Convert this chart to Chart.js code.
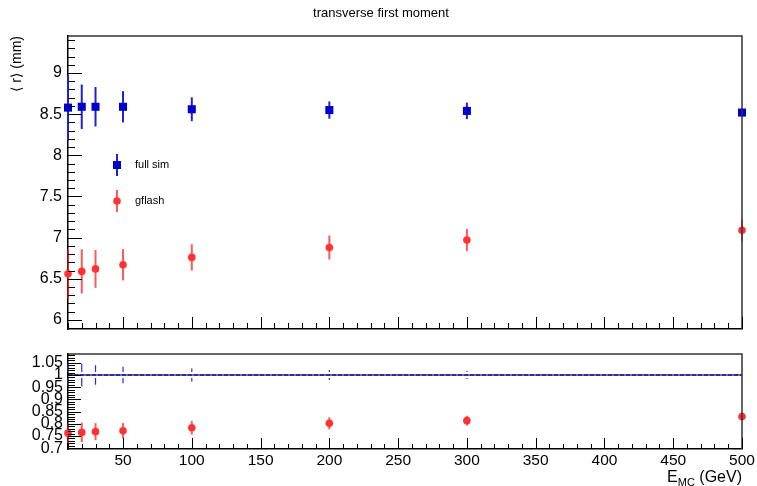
<!DOCTYPE html>
<html>
<head>
<meta charset="utf-8">
<script src="https://cdn.jsdelivr.net/npm/chart.js@4.4.1/dist/chart.umd.min.js"></script>
<style>
  html, body { margin: 0; padding: 0; background: #fff; }
  #wrap { position: relative; width: 757px; height: 486px; }
  canvas { position: absolute; left: 0; }
  #mainChart { top: 0; }
  #ratioChart { top: 340px; }
</style>
</head>
<body>
<div id="wrap">
  <canvas id="mainChart" width="757" height="340"></canvas>
  <canvas id="ratioChart" width="757" height="146"></canvas>
</div>
<script>
// E_MC (GeV)
const energies = [10, 20, 30, 50, 100, 200, 300, 500];

// <r> (mm)
const fullSim    = [8.58, 8.59, 8.59, 8.59, 8.56, 8.55, 8.54, 8.52];
const fullSimErr = [0.40, 0.27, 0.24, 0.19, 0.145, 0.105, 0.10, 0.05];
const gflash     = [6.56, 6.59, 6.62, 6.67, 6.76, 6.88, 6.97, 7.09];
const gflashErr  = [0.30, 0.27, 0.23, 0.19, 0.16, 0.146, 0.134, 0.13];

// ratio to full sim
const refRatio      = [1, 1, 1, 1, 1, 1, 1, 1];
const refRatioErr   = [0.047, 0.047, 0.040, 0.034, 0.027, 0.020, 0.016, 0.008];
const gflashRatio    = [0.762, 0.765, 0.768, 0.772, 0.784, 0.802, 0.813, 0.830];
const gflashRatioErr = [0.040, 0.040, 0.035, 0.031, 0.028, 0.025, 0.020, 0.016];

const xTicks = [50, 100, 150, 200, 250, 300, 350, 400, 450, 500];
const mainYTicks = [6, 6.5, 7, 7.5, 8, 8.5, 9];
const ratioYTicks = [0.7, 0.75, 0.8, 0.85, 0.9, 0.95, 1, 1.05];

const FONT = '"Liberation Sans", Arial, Helvetica, "DejaVu Sans", sans-serif';
const BLUE = '#0000cc';
const RED = '#ff3333';

const toPoints = (ys) => energies.map((x, i) => ({ x: x, y: ys[i] }));

// ROOT-like decorations: error bars, inside ticks, frame, texts
const rootStyle = {
    id: 'rootStyle',
    beforeDatasetsDraw(chart) {
        const ctx = chart.ctx;
        const xs = chart.scales.x, ys = chart.scales.y;
        chart.data.datasets.forEach((ds) => {
            if (!ds.errors) return;
            ctx.save();
            ctx.strokeStyle = ds.errorColor;
            ctx.lineWidth = ds.errorWidth;
            ds.data.forEach((p, i) => {
                const px = xs.getPixelForValue(p.x);
                const pc = ys.getPixelForValue(p.y);
                const pt = ys.getPixelForValue(p.y + ds.errors[i]);
                const pb = ys.getPixelForValue(p.y - ds.errors[i]);
                const gap = ds.errorGap || 0;
                ctx.beginPath();
                if (gap > 0) {
                    if (pc - gap > pt) { ctx.moveTo(px, pt); ctx.lineTo(px, pc - gap); }
                    if (pc + gap < pb) { ctx.moveTo(px, pc + gap); ctx.lineTo(px, pb); }
                } else {
                    ctx.moveTo(px, pt); ctx.lineTo(px, pb);
                }
                ctx.stroke();
            });
            ctx.restore();
        });
    },
    afterDraw(chart, args, opts) {
        const ctx = chart.ctx;
        const { left, right, top, bottom } = chart.chartArea;
        const xs = chart.scales.x, ys = chart.scales.y;
        ctx.save();

        // frame top / right
        ctx.strokeStyle = '#333';
        ctx.lineWidth = 1.5;
        ctx.beginPath();
        ctx.moveTo(left, top); ctx.lineTo(right, top); ctx.lineTo(right, bottom);
        ctx.stroke();

        // inside ticks
        ctx.strokeStyle = '#000';
        ctx.lineWidth = 1;
        ctx.beginPath();
        for (let k = Math.ceil(ys.min / opts.yMinor); k * opts.yMinor <= ys.max; k++) {
            const py = Math.round(ys.getPixelForValue(k * opts.yMinor)) + 0.5;
            ctx.moveTo(left, py); ctx.lineTo(left + opts.yMinorLen, py);
        }
        ys.ticks.forEach((t) => {
            const py = Math.round(ys.getPixelForValue(t.value)) + 0.5;
            ctx.moveTo(left, py); ctx.lineTo(left + opts.yMajorLen, py);
        });
        for (let k = Math.ceil(xs.min / opts.xMinor); k * opts.xMinor <= xs.max; k++) {
            const px = Math.round(xs.getPixelForValue(k * opts.xMinor)) + 0.5;
            ctx.moveTo(px, bottom); ctx.lineTo(px, bottom - opts.xMinorLen);
        }
        xs.ticks.forEach((t) => {
            const px = Math.round(xs.getPixelForValue(t.value)) + 0.5;
            ctx.moveTo(px, bottom); ctx.lineTo(px, bottom - opts.xMajorLen);
        });
        ctx.stroke();

        ctx.fillStyle = '#000';
        if (opts.title) {
            ctx.font = '13px ' + FONT;
            ctx.textAlign = 'center';
            ctx.textBaseline = 'middle';
            ctx.fillText(opts.title, 381, 13);
        }

        // legend
        (opts.legend || []).forEach((item) => {
            const ds = chart.data.datasets[item.dataset];
            ctx.strokeStyle = ds.errorColor;
            ctx.lineWidth = ds.errorWidth;
            ctx.beginPath();
            ctx.moveTo(item.x, item.y - 11); ctx.lineTo(item.x, item.y + 11);
            ctx.stroke();
            ctx.fillStyle = ds.pointBackgroundColor;
            ctx.beginPath();
            if (ds.pointStyle === 'rect') {
                ctx.rect(item.x - 4, item.y - 4, 8, 8);
            } else {
                ctx.arc(item.x, item.y, ds.pointRadius, 0, Math.PI * 2);
            }
            ctx.fill();
            ctx.fillStyle = '#000';
            ctx.font = '11px ' + FONT;
            ctx.textAlign = 'left';
            ctx.textBaseline = 'middle';
            ctx.fillText(ds.label, item.x + 18, item.y);
        });

        // x title with subscript
        if (opts.xTitle) {
            const t = opts.xTitle;
            ctx.textBaseline = 'alphabetic';
            ctx.textAlign = 'left';
            ctx.font = '16px ' + FONT;
            const wMain = ctx.measureText(t.main).width;
            const wTail = ctx.measureText(t.tail).width;
            ctx.font = '11px ' + FONT;
            const wSub = ctx.measureText(t.sub).width;
            let x0 = right - (wMain + wSub + wTail);
            const base = t.baseline;
            ctx.font = '16px ' + FONT;
            ctx.fillText(t.main, x0, base);
            ctx.font = '11px ' + FONT;
            ctx.fillText(t.sub, x0 + wMain, base + 4);
            ctx.font = '16px ' + FONT;
            ctx.fillText(t.tail, x0 + wMain + wSub, base);
        }
        ctx.restore();
    }
};

function fixedTicks(values) {
    return (scale) => { scale.ticks = values.map((v) => ({ value: v })); };
}

// pin axis sizes so the plot frames sit where the reference puts them
function fitY(width) {
    return (s) => { s.width = width; s.paddingTop = 0; s.paddingBottom = 0; };
}
function fitX(height) {
    return (s) => { s.height = height; s.paddingLeft = 0; s.paddingRight = 0; };
}

const mainChart = new Chart(document.getElementById('mainChart'), {
    type: 'scatter',
    data: {
        datasets: [
            {
                label: 'full sim',
                data: toPoints(fullSim),
                errors: fullSimErr,
                errorColor: '#2020d8',
                errorWidth: 2,
                pointStyle: 'rect',
                pointRadius: 5.7,
                pointBorderWidth: 0,
                pointBackgroundColor: BLUE,
                clip: false
            },
            {
                label: 'gflash',
                data: toPoints(gflash),
                errors: gflashErr,
                errorColor: 'rgba(255, 0, 0, 0.65)',
                errorWidth: 2,
                pointStyle: 'circle',
                pointRadius: 3.8,
                pointBorderWidth: 0,
                pointBackgroundColor: RED,
                clip: false
            }
        ]
    },
    options: {
        responsive: false,
        animation: false,
        events: [],
        layout: { padding: { top: 36, right: 15, left: 0, bottom: 0 } },
        scales: {
            x: {
                type: 'linear',
                min: 10,
                max: 500,
                afterBuildTicks: fixedTicks(xTicks),
                afterFit: fitX(11),
                grid: { display: false },
                border: { display: true, color: '#000', width: 1.5 },
                ticks: { display: false }
            },
            y: {
                min: 5.89,
                max: 9.45,
                afterBuildTicks: fixedTicks(mainYTicks),
                afterFit: fitY(68),
                grid: { display: false, drawTicks: false },
                border: { display: true, color: '#000', width: 1.5 },
                ticks: {
                    autoSkip: false,
                    padding: 6,
                    color: '#000',
                    font: { family: FONT, size: 16 },
                    callback: (v) => String(v)
                },
                title: {
                    display: true,
                    text: '⟨ r⟩ (mm)',
                    align: 'end',
                    color: '#000',
                    font: { family: FONT, size: 14 },
                    padding: { top: 9, bottom: 0 }
                }
            }
        },
        plugins: {
            legend: { display: false },
            tooltip: { enabled: false },
            rootStyle: {
                yMinor: 0.1, yMinorLen: 7, yMajorLen: 14,
                xMinor: 10, xMinorLen: 6, xMajorLen: 12,
                title: 'transverse first moment',
                legend: [
                    { dataset: 0, x: 117, y: 165 },
                    { dataset: 1, x: 117, y: 201 }
                ]
            }
        }
    },
    plugins: [rootStyle]
});

const ratioChart = new Chart(document.getElementById('ratioChart'), {
    type: 'scatter',
    data: {
        datasets: [
            {
                label: 'gflash / full sim',
                data: toPoints(gflashRatio),
                errors: gflashRatioErr,
                errorColor: 'rgba(255, 0, 0, 0.65)',
                errorWidth: 2,
                pointStyle: 'circle',
                pointRadius: 3.8,
                pointBorderWidth: 0,
                pointBackgroundColor: RED,
                clip: false
            },
            {
                label: 'full sim / full sim',
                data: toPoints(refRatio),
                errors: refRatioErr,
                errorColor: '#2a2ae0',
                errorWidth: 1.2,
                errorGap: 3,
                pointRadius: 0,
                clip: false
            },
            {
                label: 'unity dashed',
                data: [{ x: energies[0], y: 1 }, { x: energies[energies.length - 1], y: 1 }],
                showLine: true,
                borderColor: '#000',
                borderWidth: 1,
                borderDash: [4, 2],
                pointRadius: 0
            },
            {
                label: 'unity',
                data: [{ x: energies[0], y: 1 }, { x: energies[energies.length - 1], y: 1 }],
                showLine: true,
                borderColor: '#3030e0',
                borderWidth: 1.5,
                pointRadius: 0
            }
        ]
    },
    options: {
        responsive: false,
        animation: false,
        events: [],
        layout: { padding: { top: 14, right: 15, left: 0, bottom: 0 } },
        scales: {
            x: {
                type: 'linear',
                min: 10,
                max: 500,
                afterBuildTicks: fixedTicks(xTicks),
                afterFit: fitX(37),
                grid: { display: false, drawTicks: false },
                border: { display: true, color: '#000', width: 1.5 },
                ticks: {
                    autoSkip: false,
                    maxRotation: 0,
                    padding: 2,
                    color: '#000',
                    font: { family: FONT, size: 15.5 },
                    callback: (v) => String(v)
                }
            },
            y: {
                min: 0.697,
                max: 1.086,
                afterBuildTicks: fixedTicks(ratioYTicks),
                afterFit: fitY(68),
                grid: { display: false, drawTicks: false },
                border: { display: true, color: '#000', width: 1.5 },
                ticks: {
                    autoSkip: false,
                    padding: 5,
                    color: '#000',
                    font: { family: FONT, size: 16 },
                    callback: (v) => String(+v.toFixed(2))
                }
            }
        },
        plugins: {
            legend: { display: false },
            tooltip: { enabled: false },
            rootStyle: {
                yMinor: 0.01, yMinorLen: 7, yMajorLen: 13,
                xMinor: 10, xMinorLen: 5, xMajorLen: 11,
                xTitle: { main: 'E', sub: 'MC', tail: ' (GeV)', baseline: 142 }
            }
        }
    },
    plugins: [rootStyle]
});
</script>
</body>
</html>
